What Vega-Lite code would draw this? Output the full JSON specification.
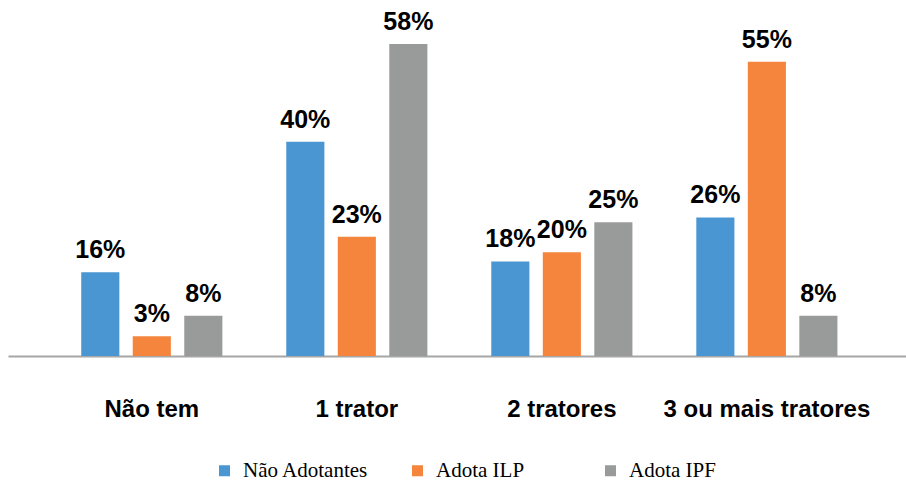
{
  "$schema": "https://vega.github.io/schema/vega-lite/v6.json",
  "width": 898,
  "height": 356,
  "autosize": {"type": "none"},
  "padding": {"left": 8, "top": 0, "right": 0, "bottom": 125},
  "background": "white",
  "config": {"view": {"stroke": null}},
  "data": {
    "values": [
      {"cat": "Não tem", "series": "Não Adotantes", "value": 15.6, "label": "16%"},
      {"cat": "Não tem", "series": "Adota ILP", "value": 3.7, "label": "3%"},
      {"cat": "Não tem", "series": "Adota IPF", "value": 7.5, "label": "8%"},
      {"cat": "1 trator", "series": "Não Adotantes", "value": 39.9, "label": "40%"},
      {"cat": "1 trator", "series": "Adota ILP", "value": 22.2, "label": "23%"},
      {"cat": "1 trator", "series": "Adota IPF", "value": 58.1, "label": "58%"},
      {"cat": "2 tratores", "series": "Não Adotantes", "value": 17.6, "label": "18%"},
      {"cat": "2 tratores", "series": "Adota ILP", "value": 19.3, "label": "20%"},
      {"cat": "2 tratores", "series": "Adota IPF", "value": 24.9, "label": "25%"},
      {"cat": "3 ou mais tratores", "series": "Não Adotantes", "value": 25.8, "label": "26%"},
      {"cat": "3 ou mais tratores", "series": "Adota ILP", "value": 54.8, "label": "55%"},
      {"cat": "3 ou mais tratores", "series": "Adota IPF", "value": 7.5, "label": "8%"}
    ]
  },
  "encoding": {
    "x": {
      "field": "cat",
      "type": "nominal",
      "sort": ["Não tem", "1 trator", "2 tratores", "3 ou mais tratores"],
      "scale": {"paddingInner": 0, "paddingOuter": 0.19, "align": 0.53},
      "axis": {
        "title": null,
        "ticks": false,
        "domainColor": "#A6A6A6",
        "domainWidth": 2,
        "labelAngle": 0,
        "labelFont": "Liberation Sans",
        "labelFontWeight": "bold",
        "labelFontSize": 24,
        "labelColor": "#000000",
        "labelBaseline": "alphabetic",
        "labelPadding": 60,
        "labelLimit": 0
      }
    },
    "xOffset": {
      "field": "series",
      "type": "nominal",
      "sort": ["Não Adotantes", "Adota ILP", "Adota IPF"],
      "scale": {"paddingInner": 0.26, "paddingOuter": 0.62}
    },
    "y": {
      "field": "value",
      "type": "quantitative",
      "scale": {"domain": [0, 66.3]},
      "axis": null
    }
  },
  "layer": [
    {
      "mark": {"type": "bar"},
      "encoding": {
        "color": {
          "field": "series",
          "type": "nominal",
          "sort": ["Não Adotantes", "Adota ILP", "Adota IPF"],
          "scale": {
            "domain": ["Não Adotantes", "Adota ILP", "Adota IPF"],
            "range": ["#4A96D2", "#F5843D", "#999B9B"]
          },
          "legend": {
            "title": null,
            "orient": "none",
            "direction": "horizontal",
            "legendX": 206,
            "legendY": 460,
            "padding": 0,
            "symbolType": "square",
            "symbolSize": 121,
            "symbolStrokeWidth": 0,
            "labelFont": "Liberation Serif",
            "labelFontSize": 21,
            "labelColor": "#000000",
            "labelOffset": 8,
            "gridAlign": "all",
            "columns": 3,
            "columnPadding": 38,
            "labelLimit": 0
          }
        }
      }
    },
    {
      "mark": {
        "type": "text",
        "font": "Liberation Sans",
        "fontWeight": "bold",
        "fontSize": 25,
        "baseline": "alphabetic",
        "dy": -14,
        "color": "#000000"
      },
      "encoding": {
        "text": {"field": "label"}
      }
    }
  ]
}
